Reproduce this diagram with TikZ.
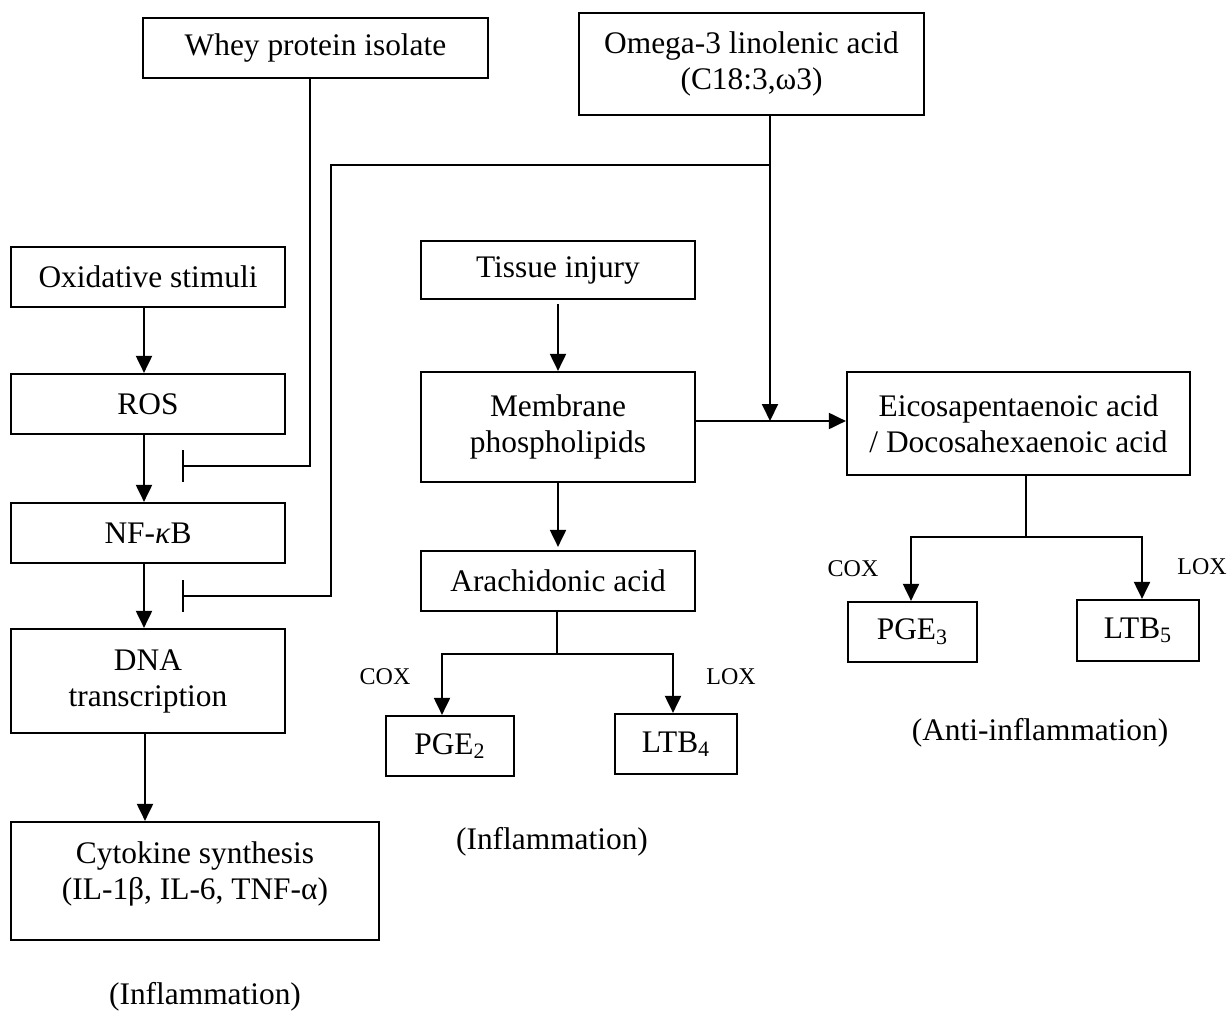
\documentclass[tikz,border=0pt]{standalone}
\usepackage{fontspec}
\setmainfont{Liberation Serif}
\usetikzlibrary{arrows.meta,calc}
\begin{document}
\begin{tikzpicture}[x=0.5pt,y=-0.5pt,
  box/.style={draw, line width=1.1pt, align=center, inner sep=0pt,
    font=\fontsize{15.7}{18}\selectfont},
  lbl/.style={font=\fontsize{12}{14}\selectfont, inner sep=0pt},
  big/.style={font=\fontsize{15.7}{18}\selectfont, inner sep=0pt},
  conn/.style={line width=1pt},
  arr/.style={conn, -{Triangle[length=8.5pt,width=8pt]}},
  inh/.style={line width=0.9pt, -{Bar[width=16pt,line width=1pt]}}]
\useasboundingbox (0,0) rectangle (1230,1016);

% boxes
\node[box, minimum width=172.5pt, minimum height=30pt] (whey) at (315.5,48) {Whey protein isolate};
\node[box, minimum width=172.5pt, minimum height=51pt] (omega) at (751.5,64) {Omega-3 linolenic acid\\(C18:3,ω3)};
\node[box, minimum width=137pt, minimum height=30pt] (ox) at (148,277) {Oxidative stimuli};
\node[box, minimum width=137pt, minimum height=30pt] (ros) at (148,404) {ROS};
\node[box, minimum width=137pt, minimum height=30pt] (nf) at (148,533) {NF-\textit{κ}B};
\node[box, minimum width=137pt, minimum height=52pt] (dna) at (148,681) {DNA\\transcription};
\node[box, minimum width=184pt, minimum height=59pt] (cyto) at (195,881) {};
\node[big, align=center] (cytotext) at ($(cyto.center)+(0,-7.5)$) {Cytokine synthesis\\(IL-1β, IL-6, TNF-α)};
\node[box, minimum width=137pt, minimum height=29pt] (tissue) at (558,270) {Tissue injury};
\node[box, minimum width=137pt, minimum height=55pt] (mem) at (558,427) {Membrane\\phospholipids};
\node[box, minimum width=137pt, minimum height=30pt] (arach) at (558,581) {Arachidonic acid};
\node[box, minimum width=64pt, minimum height=30pt] (pge2) at (450,746) {PGE\textsubscript{2}};
\node[box, minimum width=61pt, minimum height=30pt] (ltb4) at (676,744) {LTB\textsubscript{4}};
\node[box, minimum width=171.5pt, minimum height=51.5pt] (epa) at (1018.5,423.5) {Eicosapentaenoic acid\\/ Docosahexaenoic acid};
\node[box, minimum width=64.5pt, minimum height=30pt] (pge3) at (912.5,632) {PGE\textsubscript{3}};
\node[box, minimum width=61pt, minimum height=30.5pt] (ltb5) at (1138,630.5) {LTB\textsubscript{5}};

% labels
\node[lbl] (cox1) at (385,677) {COX};
\node[lbl] (lox1) at (731,677) {LOX};
\node[lbl] (cox2) at (853,569) {COX};
\node[lbl] (lox2) at (1202,567) {LOX};
\node[big] (infl1) at (552,842) {(Inflammation)};
\node[big] (infl2) at (205,997) {(Inflammation)};
\node[big] (anti) at (1040,733) {(Anti-inflammation)};

% left chain
\draw[arr] ([xshift=-2pt]ox.south) -- ([xshift=-2pt]ros.north);
\draw[arr] ([xshift=-2pt]ros.south) -- ([xshift=-2pt]nf.north);
\draw[arr] ([xshift=-2pt]nf.south) -- ([xshift=-2pt]dna.north);
\draw[arr] ([xshift=-1.5pt]dna.south) -- ([xshift=-1.5pt]dna.south |- cyto.north);

% whey inhibition
\coordinate (w1) at (310,466);
\coordinate (b1) at (182,466);
\draw[inh] (whey.south -| w1) -- (w1) -- (b1);

% omega-3 inhibition
\coordinate (h1) at (770,165);
\coordinate (h2) at (331,165);
\coordinate (h3) at (331,596);
\coordinate (b2) at (182,596);
\draw[inh] (h1) -- (h2) -- (h3) -- (b2);

% middle chain
\draw[arr] ([yshift=-2pt]tissue.south) -- (mem.north);
\draw[arr] (mem.south) -- ([yshift=1.5pt]arach.north);

% membrane -> EPA, omega arrow
\coordinate (j) at (770,421);
\draw[arr] (mem.east |- j) -- (epa.west |- j);
\draw[arr] (omega.south -| j) -- (j);

% arachidonic branches
\coordinate (a1) at (557,654);
\draw[conn] ([xshift=-0.5pt]arach.south) -- (a1);
\draw[arr] (a1) -| ([xshift=-4pt]pge2.north);
\draw[arr] (a1) -| ([xshift=-1.5pt]ltb4.north);

% EPA branches
\coordinate (e1) at (1026,537);
\draw[conn] (epa.south -| e1) -- (e1);
\draw[arr] (e1) -| ([xshift=-0.75pt]pge3.north);
\draw[arr] (e1) -| ([xshift=2pt]ltb5.north);
\end{tikzpicture}
\end{document}
